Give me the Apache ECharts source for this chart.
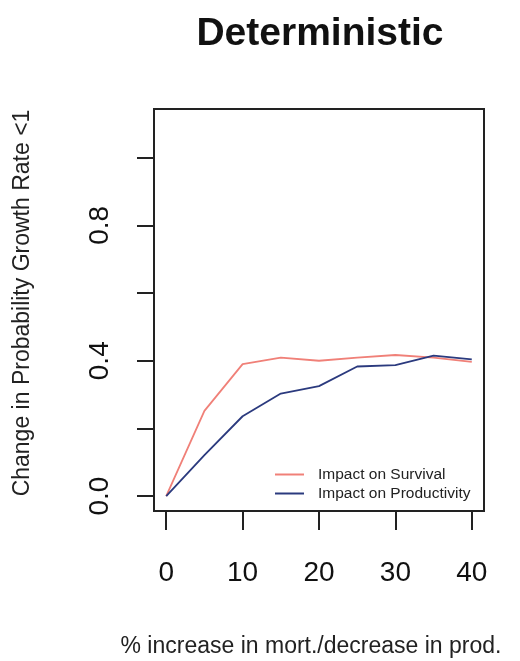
<!DOCTYPE html>
<html>
<head>
<meta charset="utf-8">
<script src="https://cdn.jsdelivr.net/npm/echarts@6/dist/echarts.min.js"></script>
<style>
  html, body { margin: 0; padding: 0; background: #fff; }
  #main { width: 520px; height: 661px; }
</style>
</head>
<body>
<div id="main"></div>
<script>
var pctChange = [0, 5, 10, 15, 20, 25, 30, 35, 40];
var survival = [0, 0.252, 0.390, 0.409, 0.400, 0.409, 0.417, 0.409, 0.397];
var productivity = [0, 0.121, 0.236, 0.303, 0.325, 0.383, 0.387, 0.415, 0.404];
var xTicks = [0, 10, 20, 30, 40];
var yTicks = [0, 0.2, 0.4, 0.6, 0.8, 1.0];
var yLabels = [0, 0.4, 0.8];

function pairs(xs, ys) {
	return xs.map(function (x, i) { return [x, ys[i]]; });
}

var myChart = echarts.init(document.getElementById('main'));
var fnt = 'Liberation Sans, Arial, sans-serif';

myChart.setOption({
	backgroundColor: '#fff',
	animation: false,
	title: {
		text: 'Deterministic',
		left: 315,
		textAlign: 'center',
		top: 10,
		textStyle: { fontFamily: fnt, fontWeight: 'bold', fontSize: 39, color: '#111' }
	},
	grid: {
		left: 154, top: 109, width: 330, height: 402,
		outerBoundsMode: 'none', containLabel: false,
		show: true, borderColor: '#222', borderWidth: 2, backgroundColor: 'transparent'
	},
	legend: {
		left: 270, top: 460,
		orient: 'vertical',
		icon: 'rect',
		itemWidth: 29, itemHeight: 2, itemGap: 0,
		textStyle: { fontFamily: fnt, fontSize: 15.5, color: '#222', lineHeight: 19, padding: [0, 0, 0, 9] },
		data: ['Impact on Survival', 'Impact on Productivity']
	},
	xAxis: {
		type: 'value', min: -1.6, max: 41.6,
		name: '% increase in mort./decrease in prod.',
		nameLocation: 'middle', nameGap: 124,
		nameTextStyle: { fontFamily: fnt, fontSize: 23, color: '#222', padding: [0, 16, 0, 0] },
		axisLine: { show: false, onZero: false },
		splitLine: { show: false },
		axisTick: { show: true, customValues: xTicks, length: 19, lineStyle: { color: '#222', width: 2 } },
		axisLabel: { customValues: xTicks, fontFamily: fnt, fontSize: 28, color: '#111', margin: 48 }
	},
	yAxis: {
		type: 'value', min: -0.044, max: 1.144,
		name: 'Change in Probability Growth Rate <1',
		nameLocation: 'middle', nameGap: 120, nameRotate: 90,
		nameTextStyle: { fontFamily: fnt, fontSize: 23, color: '#222', padding: [0, 0, 0, 14] },
		axisLine: { show: false, onZero: false },
		splitLine: { show: false },
		axisTick: { show: true, customValues: yTicks, length: 17, lineStyle: { color: '#222', width: 2 } },
		axisLabel: {
			customValues: yLabels, rotate: 90, fontFamily: fnt, fontSize: 28, color: '#111', margin: 40,
			formatter: function (v) { return v.toFixed(1); }
		}
	},
	series: [{
		name: 'Impact on Survival',
		type: 'line',
		symbol: 'none',
		data: pairs(pctChange, survival),
		lineStyle: { color: '#f08078', width: 1.8 },
		itemStyle: { color: '#f08078' }
	}, {
		name: 'Impact on Productivity',
		type: 'line',
		symbol: 'none',
		data: pairs(pctChange, productivity),
		lineStyle: { color: '#2b3a7e', width: 1.8 },
		itemStyle: { color: '#2b3a7e' }
	}]
});
</script>
</body>
</html>
